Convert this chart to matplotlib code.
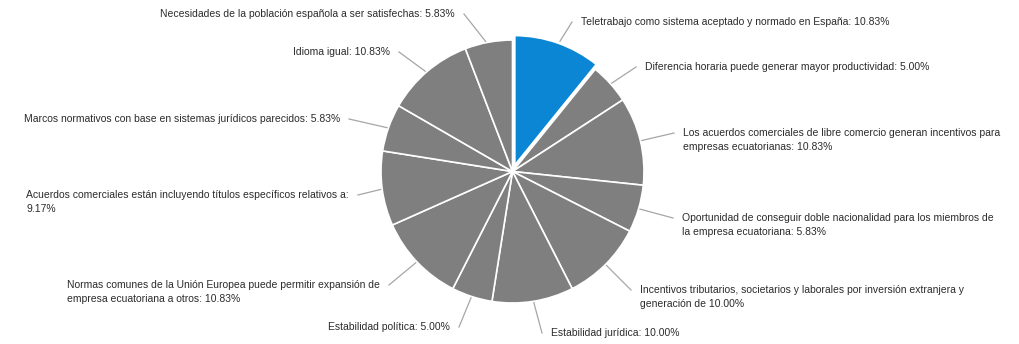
import numpy as np
import matplotlib.pyplot as plt

plt.rcParams['font.family'] = ['Liberation Sans', 'DejaVu Sans']

labels = [
    "Teletrabajo como sistema aceptado y normado en España",
    "Diferencia horaria puede generar mayor productividad",
    "Los acuerdos comerciales de libre comercio generan incentivos para\nempresas ecuatorianas",
    "Oportunidad de conseguir doble nacionalidad para los miembros de\nla empresa ecuatoriana",
    "Incentivos tributarios, societarios y laborales por inversión extranjera y\ngeneración de",
    "Estabilidad jurídica",
    "Estabilidad política",
    "Normas comunes de la Unión Europea puede permitir expansión de\nempresa ecuatoriana a otros",
    "Acuerdos comerciales están incluyendo títulos específicos relativos a",
    "Marcos normativos con base en sistemas jurídicos parecidos",
    "Idioma igual",
    "Necesidades de la población española a ser satisfechas",
]
values = [10.83, 5.00, 10.83, 5.83, 10.00, 10.00, 5.00, 10.83, 9.17, 5.83, 10.83, 5.83]
sep = [": ", ": ", ": ", ": ", " ", ": ", ": ", ": ", ":\n", ": ", ": ", ": "]

# label layout in pixels: text x, first line centre y, alignment
W, H = 1019, 344
cx, cy, R = 512.5, 171.5, 131.5
label_pos = [
    (581, 22, 'left'), (645, 67, 'left'), (683, 133, 'left'), (682, 218, 'left'),
    (640, 290, 'left'), (551, 333, 'left'), (450, 327, 'right'), (380, 285, 'right'),
    (349, 195, 'right'), (340, 119, 'right'), (390, 52, 'right'), (455, 14, 'right'),
]


def px(x, y):
    return (x - cx) / R, (cy - y) / R


fig = plt.figure(figsize=(10.19, 3.44), dpi=100)
ax = fig.add_axes([0, 0, 1, 1])

gray = '#7f7f7f'
blue = '#0a86d4'
colors = [blue] + [gray] * (len(values) - 1)
explode = [0.04] + [0] * (len(values) - 1)

wedges, _ = ax.pie(values, colors=colors, explode=explode, startangle=90,
                   counterclock=False, radius=1,
                   wedgeprops=dict(edgecolor='white', linewidth=1.2))
wedges[0].set_linewidth(2)

for i, w in enumerate(wedges):
    ang = np.deg2rad((w.theta1 + w.theta2) / 2)
    r0 = 0.97 + explode[i]
    x0, y0 = r0 * np.cos(ang), r0 * np.sin(ang)
    tx, ty, ha = label_pos[i]
    gap = -9 if ha == 'left' else 9
    x1, y1 = px(tx + gap, ty)
    ax.plot([x0, x1], [y0, y1], color='#a6a6a6', lw=0.9, zorder=0)
    txt = labels[i] + sep[i] + f"{values[i]:.2f}%"
    xt, yt = px(tx, ty - 5)
    ax.text(xt, yt, txt, ha=ha, va='top', multialignment='left',
            fontsize=7.5, color='#2b2b2b', linespacing=1.55)

ax.set_aspect('auto')
ax.set_xlim(-cx / R, (W - cx) / R)
ax.set_ylim((cy - H) / R, cy / R)
ax.axis('off')

fig.savefig('out.png', dpi=100, facecolor='white')
